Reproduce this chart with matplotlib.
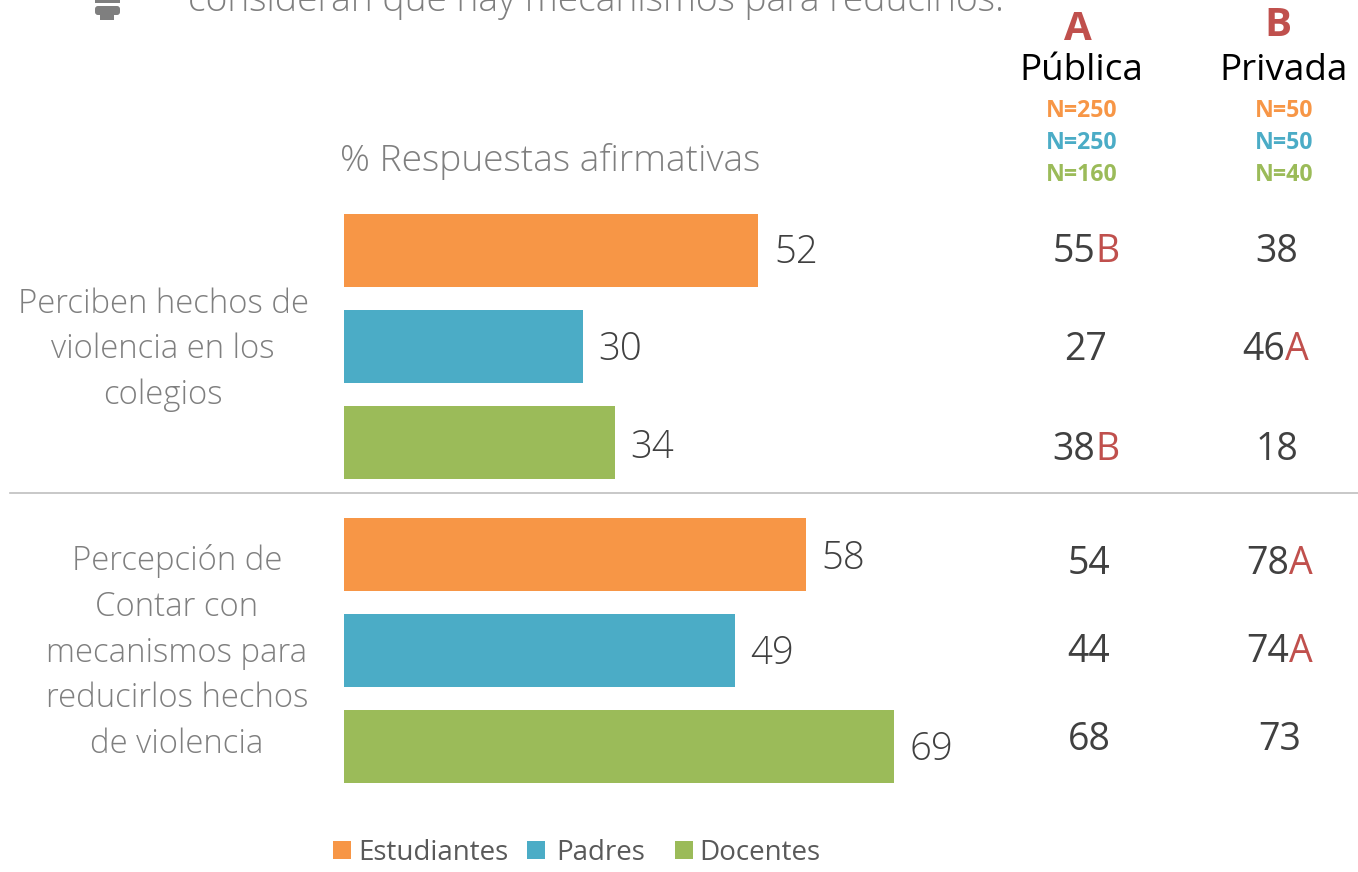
import matplotlib
matplotlib.use("Agg")
import matplotlib.pyplot as plt
from matplotlib.patches import Rectangle, FancyBboxPatch

W, H = 1358, 872
plt.rcParams['font.family'] = ['Open Sans', 'DejaVu Sans']

groups = ["Perciben hechos de\nviolencia en los\ncolegios",
          "Percepción de\nContar con\nmecanismos para\nreducirlos hechos\nde violencia"]
series = ["Estudiantes", "Padres", "Docentes"]
colors = ["#F79646", "#4BACC6", "#9BBB59"]
values = [[52, 30, 34], [58, 49, 69]]
publica = [["55", "27", "38"], ["54", "44", "68"]]
publica_sig = [["B", "", "B"], ["", "", ""]]
privada = [["38", "46", "18"], ["78", "74", "73"]]
privada_sig = [["", "A", ""], ["A", "A", ""]]
n_publica = ["N=250", "N=250", "N=160"]
n_privada = ["N=50", "N=50", "N=40"]

fig = plt.figure(figsize=(W / 100, H / 100), dpi=100)
fig.patch.set_facecolor("white")

bg = fig.add_axes([0, 0, 1, 1])
bg.set_xlim(0, W)
bg.set_ylim(H, 0)
bg.axis("off")


def T(x, y, s, size, color="#404040", ha="center", va="center", **kw):
    return bg.text(x, y, s, fontsize=size, color=color, ha=ha, va=va, **kw)


px_unit = 7.97
left, top, slot = 344, 202.5, 96
ax = fig.add_axes([left / W, 1 - (top + 6.2 * slot) / H, 100 * px_unit / W, 6.2 * slot / H])
ax.set_xlim(0, 100)
ax.set_ylim(6.2, 0)
ax.axis("off")
ax.patch.set_alpha(0)
group_gap = 16 / 96
for g, vals in enumerate(values):
    for i, v in enumerate(vals):
        pos = 0.5 + g * (3 + group_gap) + i
        ax.barh(pos, v, height=73 / 96, color=colors[i], linewidth=0)

lab_dy = [[2, 3, 5], [4, 3, 3]]
for g, vals in enumerate(values):
    for i, v in enumerate(vals):
        pos = 0.5 + g * (3 + group_gap) + i
        ax.annotate(str(v), (v, pos), xytext=(15.5 * 0.72, -lab_dy[g][i] * 0.72),
                    textcoords="offset points", ha="left", va="center",
                    fontsize=27.5, color="#404040", fontweight="light")

bg.plot([10, 1358], [493, 493], color="#BFBFBF", lw=1.2)

T(595.5, 1, "consideran que hay mecanismos para reducirlos.", 26.8, "#7F7F7F", fontweight="light")
T(550.5, 161.5, "% Respuestas afirmativas", 26.7, "#7F7F7F", fontweight="light")
T(1078, 29, "A", 29, "#C0504D", fontweight="bold")
T(1278, 26, "B", 29, "#C0504D", fontweight="bold")
T(1081.5, 71.5, "Pública", 26.6, "black")
T(1283.5, 71.5, "Privada", 26.6, "black")
for i, y in enumerate([111, 143, 175]):
    T(1082, y, n_publica[i], 16.7, colors[i], fontweight="bold")
    T(1284, y, n_privada[i], 16.7, colors[i], fontweight="bold")

T(163, 349.5, groups[0], 23.7, "#7F7F7F", fontweight="light", linespacing=1.48)
T(177, 652.5, groups[1], 23.7, "#7F7F7F", fontweight="light", linespacing=1.48)

ys = [[252, 350, 450], [564, 652, 740]]
xs_pub = [[1074, 1086, 1074], [1089, 1089, 1089]]
xs_pri = [[1277, 1264, 1277], [1268, 1268, 1280]]
for g in range(2):
    for i in range(3):
        y = ys[g][i]
        for xs, vals, sig in ((xs_pub, publica, publica_sig), (xs_pri, privada, privada_sig)):
            x = xs[g][i]
            T(x, y, vals[g][i], 27, "#404040")
            if sig[g][i]:
                T(x + 33, y, sig[g][i], 27, "#C0504D")

for x, name, c, tx in zip([333, 527, 675], series, colors, [358, 556, 699]):
    bg.add_patch(Rectangle((x, 841), 18, 18, color=c, lw=0))
    T(tx, 853, name, 20, "#595959", ha="left")

bg.add_patch(Rectangle((95, 0), 25, 3, color="#7F7F7F", lw=0))
bg.add_patch(FancyBboxPatch((95, 6), 25, 9, boxstyle="round,pad=0,rounding_size=3", color="#7F7F7F", lw=0))
bg.add_patch(Rectangle((100, 14), 14, 6, color="#7F7F7F", lw=0))

fig.savefig("out.png", dpi=100)
